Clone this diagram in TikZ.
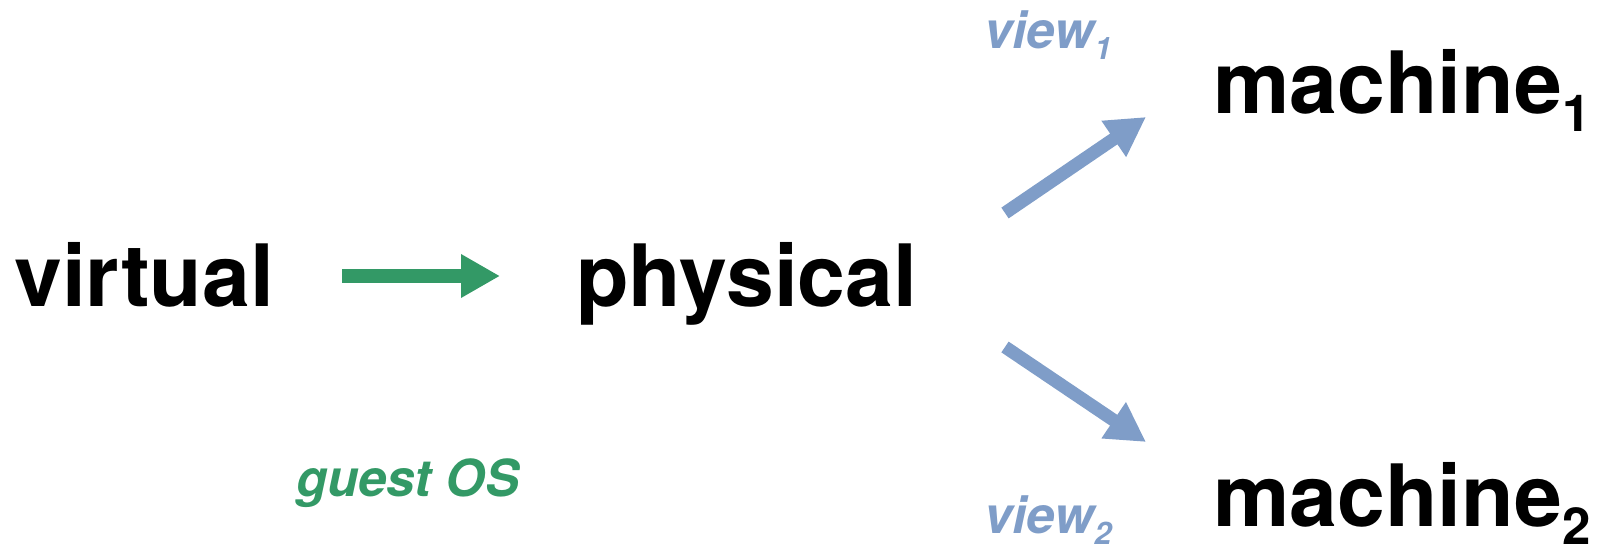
\documentclass[tikz,border=0pt]{standalone}
\usepackage{fontspec}
\setmainfont{TeX Gyre Heros}
\usetikzlibrary{arrows.meta}
\definecolor{vgreen}{HTML}{339966}
\definecolor{vblue}{HTML}{7F9DC8}
\tikzset{
  bigword/.style={anchor=base west, inner sep=0pt, font=\fontsize{86}{92}\selectfont\bfseries},
  smallword/.style={anchor=base west, inner sep=0pt, font=\fontsize{51}{56}\selectfont\bfseries\itshape},
  fatarrow/.style={line width=14pt, -{Triangle[length=39pt,width=41pt]}}
}
\newcommand{\msub}[1]{{\fontsize{51}{51}\selectfont\raisebox{-18pt}{#1}}}
\newcommand{\vsub}[1]{{\fontsize{31}{31}\selectfont\raisebox{-11pt}{#1}}}
\begin{document}
\begin{tikzpicture}[x=1pt,y=-1pt]
\useasboundingbox (0,0) rectangle (1601,553);
\node[bigword] (virtual) at (14,307) {virtual};
\node[bigword] (physical) at (576,307) {physical};
\node[bigword] (m1) at (1213,114) {machine\msub{1}};
\node[bigword] (m2) at (1213,526) {machine\msub{2}};
\node[smallword, text=vblue] (v1) at (984,49) {view\vsub{1}};
\node[smallword, text=vblue] (v2) at (984,533) {view\vsub{2}};
\node[smallword, text=vgreen] (guest) at (296,496) {guest OS};
\coordinate (gs) at (342,276);
\coordinate (ge) at (500,276);
\coordinate (b1s) at (1005,213);
\coordinate (b1e) at (1146,117);
\coordinate (b2s) at (1005,347);
\coordinate (b2e) at (1146,442);
\draw[fatarrow, vgreen] (gs) -- (ge);
\draw[fatarrow, vblue, line width=13pt] (b1s) -- (b1e);
\draw[fatarrow, vblue, line width=13pt] (b2s) -- (b2e);
\end{tikzpicture}
\end{document}
